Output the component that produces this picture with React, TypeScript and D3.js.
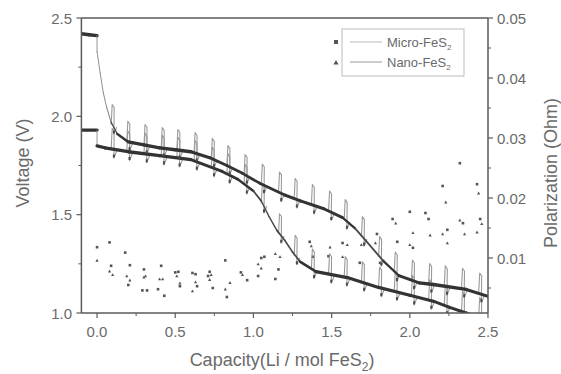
import React from "react";
import * as d3 from "d3";

// ---- Data ----
// Curve A: starts at 2.42 V (upper plateau, late drop)
const capA = [-0.1, -0.05, 0.0, 0.0, 0.02, 0.04, 0.06, 0.09, 0.13, 0.2, 0.3, 0.4, 0.5, 0.6, 0.72, 0.83, 0.93, 1.04, 1.2, 1.3, 1.45, 1.57, 1.65, 1.72, 1.83, 1.93, 2.06, 2.15, 2.36, 2.5];
const voltA = [2.42, 2.415, 2.41, 2.33, 2.22, 2.12, 2.05, 1.97, 1.91, 1.87, 1.855, 1.84, 1.83, 1.82, 1.79, 1.75, 1.71, 1.66, 1.6, 1.57, 1.53, 1.485, 1.43, 1.367, 1.265, 1.19, 1.153, 1.145, 1.12, 1.085];
// Curve B: starts at 1.93 V (early drop)
const capB = [-0.1, 0.0, 0.0, 0.05, 0.2, 0.4, 0.6, 0.8, 0.9, 1.0, 1.05, 1.1, 1.15, 1.2, 1.25, 1.3, 1.4, 1.6, 1.8, 2.0, 2.15, 2.25, 2.36, 2.5];
const voltB = [1.93, 1.93, 1.85, 1.84, 1.82, 1.8, 1.78, 1.72, 1.68, 1.62, 1.57, 1.49, 1.42, 1.37, 1.31, 1.26, 1.21, 1.18, 1.13, 1.09, 1.06, 1.03, 1.0, 0.96];
// GITT relaxation spikes (capacity positions)
const spikeCaps = [0.1, 0.2, 0.31, 0.42, 0.52, 0.63, 0.74, 0.84, 0.95, 1.06, 1.17, 1.27, 1.38, 1.49, 1.59, 1.7, 1.81, 1.91, 2.02, 2.13, 2.23, 2.34, 2.45];
const spikeRise = 0.105;
const spikeDip = 0.045;

// Polarization scatter (capacity, Ohm)
const polMicroCap = [0.0, 0.08, 0.09, 0.18, 0.2, 0.21, 0.29, 0.3, 0.32, 0.39, 0.41, 0.43, 0.5, 0.52, 0.53, 0.61, 0.63, 0.64, 0.71, 0.72, 0.74, 0.82, 0.83, 0.92, 0.96, 1.03, 1.05, 1.07, 1.14, 1.16, 1.36, 1.38, 1.48, 1.57, 1.68, 1.79, 1.81, 1.89, 1.92, 2.0, 2.02, 2.1, 2.12, 2.21, 2.24, 2.32, 2.34, 2.43, 2.45];
const polMicroVal = [0.0118, 0.0126, 0.0087, 0.0109, 0.0055, 0.0088, 0.0046, 0.0081, 0.0046, 0.0048, 0.0087, 0.0037, 0.0076, 0.0077, 0.0053, 0.0075, 0.0073, 0.0053, 0.007, 0.0077, 0.005, 0.0096, 0.0035, 0.0076, 0.0063, 0.007, 0.01, 0.0102, 0.0065, 0.0081, 0.0127, 0.0102, 0.0103, 0.0125, 0.0092, 0.014, 0.0092, 0.0165, 0.0127, 0.0177, 0.0117, 0.0175, 0.0165, 0.022, 0.0147, 0.0258, 0.0158, 0.0223, 0.0165];
const polNanoCap = [0.0, 0.08, 0.1, 0.19, 0.21, 0.3, 0.31, 0.4, 0.42, 0.51, 0.53, 0.61, 0.63, 0.72, 0.73, 0.82, 0.85, 0.93, 1.03, 1.05, 1.14, 1.17, 1.37, 1.49, 1.57, 1.6, 1.69, 1.78, 1.91, 2.0, 2.02, 2.13, 2.21, 2.23, 2.24, 2.32, 2.35, 2.43, 2.44, 2.46];
const polNanoVal = [0.0096, 0.0078, 0.0072, 0.007, 0.0063, 0.0068, 0.007, 0.0065, 0.0065, 0.007, 0.0058, 0.0045, 0.006, 0.0064, 0.0072, 0.0048, 0.0059, 0.0072, 0.009, 0.0083, 0.0107, 0.0102, 0.012, 0.0118, 0.0102, 0.0122, 0.0122, 0.0125, 0.0158, 0.0122, 0.0142, 0.0138, 0.014, 0.0193, 0.0125, 0.0163, 0.014, 0.0143, 0.0208, 0.0157];

const xTicks = [0, 0.5, 1.0, 1.5, 2.0, 2.5];
const xMinor = [0.25, 0.75, 1.25, 1.75, 2.25];
const vTicks = [1.0, 1.5, 2.0, 2.5];
const vMinor = [1.25, 1.75, 2.25];
const pTicks = [0.01, 0.02, 0.03, 0.04, 0.05];
const pMinor = [0.005, 0.015, 0.025, 0.035, 0.045];

const W = 561, H = 374;
const L = 81.4, R = 488, T = 18, B = 313;
const FONT = "'Liberation Sans', Arial, sans-serif";
const AX = "#5a5a5a";
const TXT = "#6a6a6a";

export default function App() {
  const x = d3.scaleLinear().domain([-0.1, 2.5]).range([L, R]);
  const yV = d3.scaleLinear().domain([1.0, 2.5]).range([B, T]);
  const yP = d3.scaleLinear().domain([0.05 - (B - T) / 6000, 0.05]).range([B, T]);

  const curves = [
    { cap: capA, v: voltA },
    { cap: capB, v: voltB },
  ];

  const interp = (cap: number[], v: number[], c: number) => {
    for (let i = 1; i < cap.length; i++) {
      if (c <= cap[i] && cap[i] > cap[i - 1]) {
        const t = (c - cap[i - 1]) / (cap[i] - cap[i - 1]);
        if (t >= 0) return v[i - 1] + t * (v[i] - v[i - 1]);
      }
    }
    return v[v.length - 1];
  };

  const thinLine = d3.line<[number, number]>().x((d) => x(d[0])).y((d) => yV(d[1])).curve(d3.curveMonotoneX);

  const thick: JSX.Element[] = [];
  const thin: JSX.Element[] = [];
  const dips: JSX.Element[] = [];

  curves.forEach((cv, ci) => {
    // thick band segments, width based on steepness (marker density)
    for (let i = 1; i < cv.cap.length; i++) {
      const x0 = x(cv.cap[i - 1]), x1 = x(cv.cap[i]);
      const y0 = yV(cv.v[i - 1]), y1 = yV(cv.v[i]);
      const dx = Math.max(0.01, x1 - x0);
      const slope = Math.abs(y1 - y0) / dx;
      const w = 0.9 + 2.5 / (1 + (slope / 0.9) ** 2);
      const col = slope > 3 ? "#8a8a8a" : slope > 1 ? "#4a4a4a" : "#333";
      thick.push(
        <line key={`t${ci}-${i}`} x1={x0} y1={y0} x2={x1} y2={y1} stroke={col} strokeWidth={w} strokeLinecap="round" />
      );
    }
    // spikes
    spikeCaps.forEach((s, k) => {
      const v = interp(cv.cap, cv.v, s);
      const xs = x(s);
      const d = `M${xs - 1.5},${yV(v) - 0.5} L${xs - 0.5},${yV(v + spikeRise)} L${xs + 1.5},${yV(v + spikeRise) + 3} L${xs + 1.2},${yV(v - spikeDip)} L${xs + 4},${yV(v - 0.01)}`;
      thin.push(<path key={`s${ci}-${k}`} d={d} fill="none" stroke="#999" strokeWidth={1.1} strokeLinejoin="round" />);
      dips.push(
        <line key={`d${ci}-${k}`} x1={xs + 1.2} y1={yV(v - spikeDip) - 0.5} x2={xs + 1.2} y2={yV(v - spikeDip + 0.018)} stroke="#4a4a4a" strokeWidth={2} />
      );
    });
  });

  const tri = (cx: number, cy: number, r: number) => `M${cx},${cy - r}L${cx + r},${cy + r * 0.8}L${cx - r},${cy + r * 0.8}Z`;

  return (
    <svg width={W} height={H} style={{ position: "absolute", left: 0, top: 0, background: "#fff" }} fontFamily={FONT}>
      <defs>
        <clipPath id="plot">
          <rect x={L} y={T} width={R - L} height={B - T} />
        </clipPath>
      </defs>

      <g clipPath="url(#plot)">
        {polMicroCap.map((c, i) => (
          <rect key={`pm${i}`} x={x(c) - 1.3} y={yP(polMicroVal[i]) - 1.3} width={2.6} height={2.6} fill="#555" />
        ))}
        {polNanoCap.map((c, i) => (
          <path key={`pn${i}`} d={tri(x(c), yP(polNanoVal[i]), 1.6)} fill="#555" />
        ))}
        {thin}
        {thick}
        {dips}
      </g>

      {/* frame */}
      <line x1={L} y1={T} x2={R} y2={T} stroke={AX} strokeWidth={1.5} />
      <line x1={L} y1={T} x2={L} y2={B} stroke={AX} strokeWidth={1.5} />
      <line x1={R} y1={T} x2={R} y2={B} stroke={AX} strokeWidth={1.5} />
      <line x1={L} y1={B} x2={R} y2={B} stroke={AX} strokeWidth={1.5} />

      {/* x ticks */}
      {xTicks.map((t) => (
        <g key={`xt${t}`}>
          <line x1={x(t)} y1={B} x2={x(t)} y2={B + 5} stroke={AX} strokeWidth={1.2} />
          <text x={x(t)} y={337} textAnchor="middle" fontSize={15} fill={TXT}>{t.toFixed(1)}</text>
        </g>
      ))}
      {xMinor.map((t) => (
        <line key={`xm${t}`} x1={x(t)} y1={B} x2={x(t)} y2={B + 3} stroke={AX} strokeWidth={1} />
      ))}

      {/* left ticks */}
      {vTicks.map((t) => (
        <g key={`vt${t}`}>
          <line x1={L - 5} y1={yV(t)} x2={L} y2={yV(t)} stroke={AX} strokeWidth={1.2} />
          <text x={72} y={yV(t) + 5.5} textAnchor="end" fontSize={15} fill={TXT}>{t.toFixed(1)}</text>
        </g>
      ))}
      {vMinor.map((t) => (
        <line key={`vm${t}`} x1={L - 3} y1={yV(t)} x2={L} y2={yV(t)} stroke={AX} strokeWidth={1} />
      ))}

      {/* right ticks */}
      {pTicks.map((t) => (
        <g key={`pt${t}`}>
          <line x1={R} y1={yP(t)} x2={R + 5} y2={yP(t)} stroke={AX} strokeWidth={1.2} />
          <text x={497} y={yP(t) + 5.5} textAnchor="start" fontSize={15} fill={TXT}>{t.toFixed(2)}</text>
        </g>
      ))}
      {pMinor.map((t) => (
        <line key={`pm${t}`} x1={R} y1={yP(t)} x2={R + 3} y2={yP(t)} stroke={AX} strokeWidth={1} />
      ))}

      {/* axis titles */}
      <text x={282} y={366} textAnchor="middle" fontSize={18} fill={TXT}>
        Capacity(Li / mol FeS<tspan fontSize={12} dy={5}>2</tspan><tspan dy={-5}>)</tspan>
      </text>
      <text transform={`translate(29,163) rotate(-90)`} textAnchor="middle" fontSize={18} fill={TXT}>Voltage (V)</text>
      <text transform={`translate(557,173) rotate(-90)`} textAnchor="middle" fontSize={18} fill={TXT}>Polarization (Ohm)</text>

      {/* legend */}
      <rect x={342} y={29} width={122} height={47} fill="#fff" stroke="#bbb" strokeWidth={1} />
      <rect x={334} y={40} width={4} height={4} fill="#555" />
      <path d={tri(336, 62.5, 2.6)} fill="#555" />
      <line x1={350} y1={42} x2={382} y2={42} stroke="#bbb" strokeWidth={1} />
      <line x1={350} y1={62} x2={382} y2={62} stroke="#999" strokeWidth={1} />
      <text x={387} y={47} fontSize={13} fill={TXT}>Micro-FeS<tspan fontSize={8} dy={3}>2</tspan></text>
      <text x={387} y={67} fontSize={13} fill={TXT}>Nano-FeS<tspan fontSize={8} dy={3}>2</tspan></text>
    </svg>
  );
}
